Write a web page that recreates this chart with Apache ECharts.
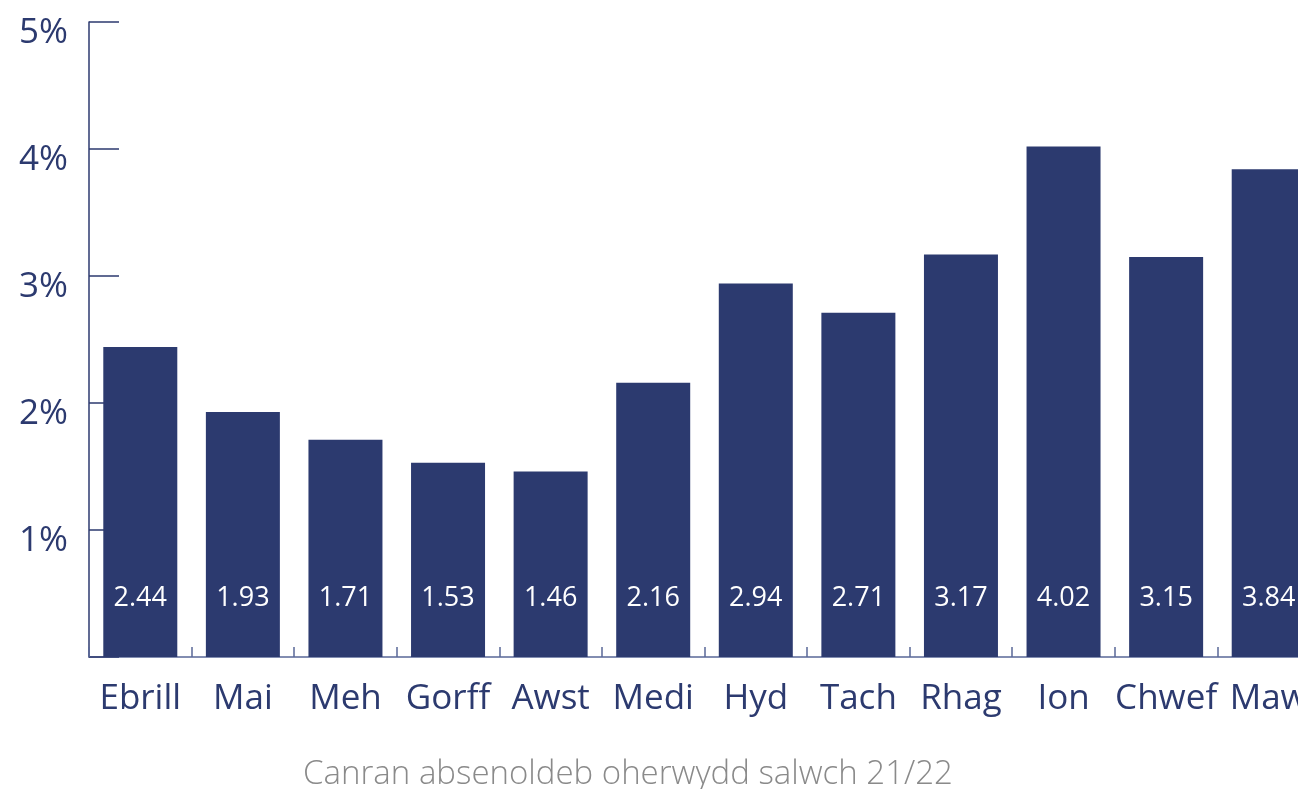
<!DOCTYPE html>
<html>
<head>
<meta charset="utf-8">
<script src="https://cdn.jsdelivr.net/npm/echarts@6/dist/echarts.min.js"></script>
<style>
html, body { margin: 0; padding: 0; background: #fff; }
#chart { width: 1298px; height: 789px; }
</style>
</head>
<body>
<div id="chart"></div>
<script>
// misoedd (categories)
var months = ['Ebrill', 'Mai', 'Meh', 'Gorff', 'Awst', 'Medi', 'Hyd', 'Tach', 'Rhag', 'Ion', 'Chwef', 'Maw'];
// canran absenoldeb
var rates = [2.44, 1.93, 1.71, 1.53, 1.46, 2.16, 2.94, 2.71, 3.17, 4.02, 3.15, 3.84];
var yTicks = [0, 1, 2, 3, 4, 5];

var navy = '#2c3a6f';
var chart = echarts.init(document.getElementById('chart'));

var option = {
    backgroundColor: '#ffffff',
    animation: false,
    title: {
        text: 'Canran absenoldeb oherwydd salwch 21/22',
        left: 623,
        textAlign: 'center',
        top: 753,
        textStyle: {
            color: '#8a8a8a',
            fontFamily: 'Open Sans',
            fontWeight: 300,
            fontSize: 33
        }
    },
    grid: {
        left: 89,
        top: 22,
        width: 1231,
        height: 635,
        containLabel: false,
        outerBoundsMode: 'none'
    },
    xAxis: {
        type: 'category',
        data: months,
        axisLine: { lineStyle: { color: '#5a6898', width: 1.5 } },
        axisTick: {
            show: true,
            inside: true,
            length: 10,
            lineStyle: { color: '#5a6898', width: 1.5 }
        },
        axisLabel: {
            interval: 0,
            margin: 25,
            color: navy,
            fontFamily: 'Open Sans',
            fontSize: 35
        }
    },
    yAxis: {
        type: 'value',
        min: yTicks[0],
        max: yTicks[yTicks.length - 1],
        interval: 1,
        axisLine: { show: true, lineStyle: { color: navy, width: 1.5 } },
        axisTick: {
            show: true,
            inside: true,
            length: 30,
            lineStyle: { color: navy, width: 1.5 }
        },
        splitLine: { show: false },
        axisLabel: {
            margin: 21,
            color: navy,
            fontFamily: 'Open Sans',
            fontSize: 35,
            verticalAlign: 'top',
            lineHeight: 22,
            formatter: function (v) { return v === 0 ? '' : v + '%'; }
        }
    },
    series: [{
        type: 'bar',
        data: rates,
        barWidth: 74,
        itemStyle: { color: navy },
        label: {
            show: true,
            position: 'insideBottom',
            distance: 45,
            color: '#ffffff',
            fontFamily: 'Open Sans',
            fontSize: 27,
            formatter: function (p) { return p.value.toFixed(2); }
        }
    }]
};

chart.setOption(option);
</script>
</body>
</html>
